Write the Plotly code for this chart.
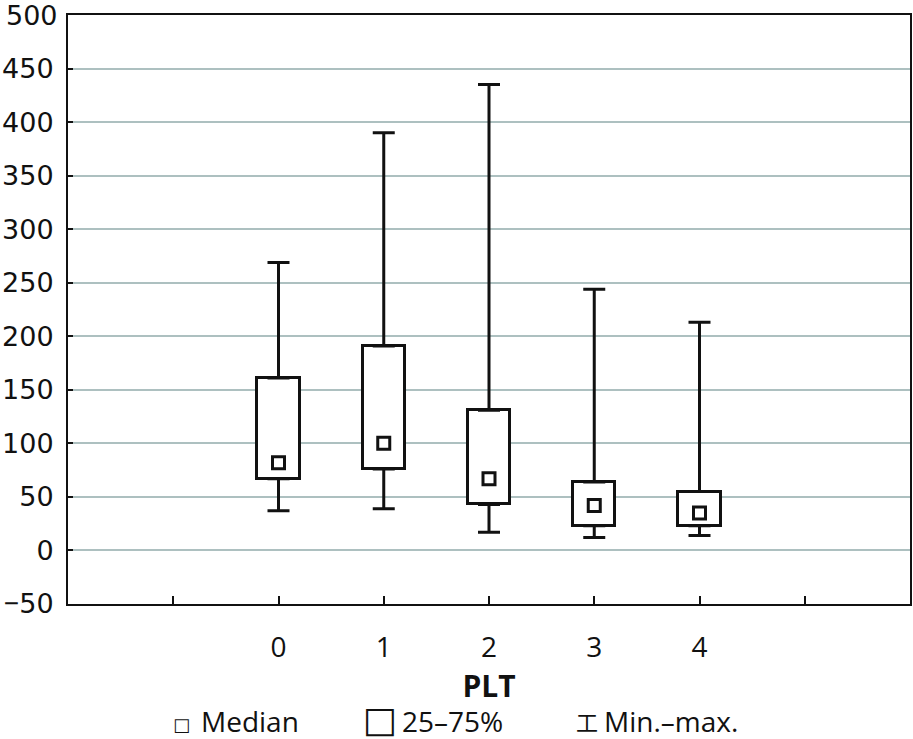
import plotly.graph_objects as go

categories = [0, 1, 2, 3, 4]
mins = [37, 39, 17, 12, 14]
q1 = [67, 76, 43, 23, 23]
medians = [82, 100, 67, 42, 35]
q3 = [161, 191, 131, 64, 55]
maxs = [269, 390, 435, 244, 213]

y_ticks = list(range(-50, 451, 50))
y_top_tick = 500
x_tickvals = [-1, 0, 1, 2, 3, 4, 5]
x_ticktext = ["", "0", "1", "2", "3", "4", ""]

FONT = "Open Sans"
TICKFONT = "DejaVu Sans"
BLACK = "#111111"
FS = 28

def y_label(v):
    if v < 0:
        return "<span style='font-family:Open Sans'>−</span>" + str(-v)
    return str(v)

y_ticktext = [y_label(v) for v in y_ticks]

fig = go.Figure()

# upper whiskers (from q3 up to max)
fig.add_trace(go.Scatter(
    x=categories, y=q3, mode="markers",
    marker=dict(size=1, color="rgba(0,0,0,0)"),
    error_y=dict(type="data", symmetric=False,
                 array=[mx - u for mx, u in zip(maxs, q3)],
                 arrayminus=[0] * len(q3),
                 color=BLACK, thickness=3, width=11),
    showlegend=False, hoverinfo="skip"))

# lower whiskers (from q1 down to min)
fig.add_trace(go.Scatter(
    x=categories, y=q1, mode="markers",
    marker=dict(size=1, color="rgba(0,0,0,0)"),
    error_y=dict(type="data", symmetric=False,
                 array=[0] * len(q1),
                 arrayminus=[l - mn for l, mn in zip(q1, mins)],
                 color=BLACK, thickness=3, width=11),
    showlegend=False, hoverinfo="skip"))

# boxes 25-75%
fig.add_trace(go.Bar(
    x=categories, y=[u - l for u, l in zip(q3, q1)], base=q1,
    width=0.4,
    marker=dict(color="white", line=dict(color=BLACK, width=3)),
    showlegend=False))

# medians
fig.add_trace(go.Scatter(
    x=categories, y=medians, mode="markers",
    marker=dict(symbol="square-open", size=12, color=BLACK,
                line=dict(width=3, color=BLACK)),
    showlegend=False))

L, R, T, B = 68, 3, 15, 135
W, H = 913, 739
pw = W - L - R
ph = H - T - B

def px(x):
    return (x - L) / pw

def py(y):
    return (H - B - y) / ph

# top y tick label (drawn as annotation at the axis value)
fig.add_annotation(x=0, y=y_top_tick, xref="paper", yref="y",
                   xanchor="right", yanchor="middle", showarrow=False,
                   xshift=-8, text=str(y_top_tick),
                   font=dict(family=TICKFONT, size=27, color=BLACK))

# legend: symbols and labels
legend_symbols = [
    (181, 724, "□", "DejaVu Sans", 18),
    (380, 719, "□", "DejaVu Sans", 36),
    (587, 721, "工", "Noto Sans CJK SC", 22),
]
legend_labels = [
    (199, "Median"),
    (400, "25–75%"),
    (602, "Min.–max."),
]
for xpix, ypix, sym, fam, size in legend_symbols:
    fig.add_annotation(x=px(xpix), y=py(ypix), xref="paper", yref="paper",
                       xanchor="center", yanchor="middle", showarrow=False,
                       text=sym, font=dict(family=fam, size=size, color=BLACK))
for xpix, txt in legend_labels:
    fig.add_annotation(x=px(xpix), y=py(721), xref="paper", yref="paper",
                       xanchor="left", yanchor="middle", showarrow=False,
                       text=txt, font=dict(family=FONT, size=FS, color=BLACK))

fig.update_layout(
    width=W, height=H,
    margin=dict(l=L, r=R, t=T, b=B),
    plot_bgcolor="white", paper_bgcolor="white",
    font=dict(family=FONT, size=FS, color=BLACK),
    bargap=0,
    xaxis=dict(range=[-2, 6], tickvals=x_tickvals, ticktext=x_ticktext,
               ticks="inside", ticklen=8, tickwidth=2, tickcolor=BLACK,
               showgrid=False, zeroline=False, automargin=False,
               showline=True, linewidth=2, linecolor=BLACK, mirror=True,
               ticklabelstandoff=17,
               tickfont=dict(family=FONT, size=FS, color=BLACK),
               title=dict(text="<b>PLT</b>", standoff=1,
                          font=dict(family=FONT, size=30, color=BLACK))),
    yaxis=dict(range=[-50, 500], tickvals=y_ticks, ticktext=y_ticktext,
               showgrid=True, gridcolor="#adc0c0", gridwidth=2,
               zeroline=False, ticks="inside", ticklen=5, tickwidth=2,
               tickcolor=BLACK, automargin=False, ticklabelstandoff=7,
               tickfont=dict(family=TICKFONT, size=27, color=BLACK),
               showline=True, linewidth=2, linecolor=BLACK, mirror=True),
)

fig.write_html("out.html",
               config={"displayModeBar": False},
               post_script="document.body.style.margin='0';"
                           "document.body.style.overflow='hidden';")
